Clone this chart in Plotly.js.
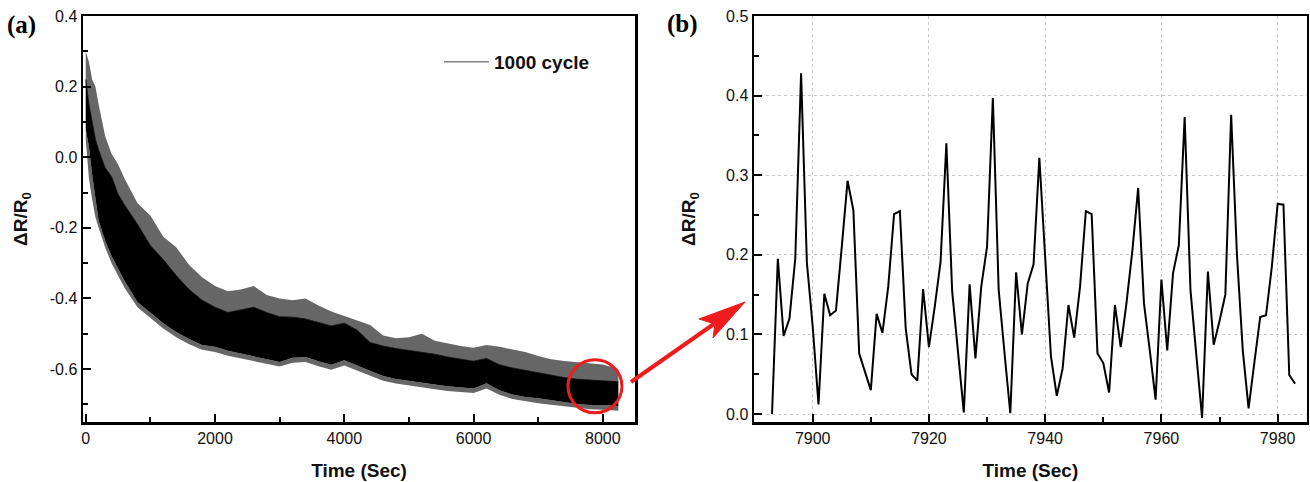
<!DOCTYPE html>
<html><head><meta charset="utf-8">
<script src="https://cdn.plot.ly/plotly-3.0.1.min.js"></script>
<style>html,body{margin:0;padding:0;background:#fff}#chart{width:1310px;height:482px}</style>
</head><body><div id="chart"></div>
<script>
// ---------- Panel (a): envelope readings of the 1000-cycle record ----------
const timeA     = [0, 50, 100, 150, 200, 300, 400, 500, 600, 800, 1000, 1200, 1400, 1600, 1800, 2000, 2200, 2400, 2600, 2800, 3000, 3200, 3400, 3600, 3800, 4000, 4200, 4400, 4600, 4800, 5000, 5200, 5400, 5600, 5800, 6000, 6200, 6400, 6600, 6800, 7000, 7200, 7400, 7600, 7800, 8000, 8240];
const spikeTopA = [0.30, 0.27, 0.22, 0.20, 0.15, 0.06, 0.01, -0.02, -0.06, -0.13, -0.165, -0.225, -0.255, -0.305, -0.34, -0.365, -0.38, -0.375, -0.365, -0.39, -0.40, -0.405, -0.40, -0.42, -0.437, -0.45, -0.462, -0.475, -0.505, -0.513, -0.51, -0.50, -0.52, -0.528, -0.535, -0.54, -0.532, -0.537, -0.545, -0.552, -0.563, -0.572, -0.577, -0.58, -0.584, -0.587, -0.60];
const coreTopA  = [0.22, 0.15, 0.10, 0.05, 0.02, -0.03, -0.055, -0.105, -0.135, -0.19, -0.25, -0.29, -0.335, -0.375, -0.405, -0.425, -0.44, -0.432, -0.425, -0.44, -0.452, -0.453, -0.458, -0.468, -0.478, -0.47, -0.49, -0.525, -0.535, -0.542, -0.547, -0.551, -0.558, -0.566, -0.573, -0.578, -0.57, -0.588, -0.597, -0.604, -0.611, -0.619, -0.624, -0.629, -0.631, -0.632, -0.636];
const coreBotA  = [0.08, 0.03, -0.05, -0.12, -0.18, -0.235, -0.28, -0.315, -0.35, -0.41, -0.44, -0.47, -0.495, -0.515, -0.532, -0.537, -0.548, -0.556, -0.562, -0.572, -0.58, -0.568, -0.566, -0.578, -0.588, -0.575, -0.59, -0.607, -0.62, -0.628, -0.634, -0.64, -0.644, -0.649, -0.653, -0.655, -0.64, -0.66, -0.672, -0.679, -0.683, -0.687, -0.693, -0.699, -0.702, -0.702, -0.705];
const spikeBotA = [0.05, -0.06, -0.12, -0.17, -0.20, -0.255, -0.30, -0.335, -0.37, -0.425, -0.455, -0.485, -0.51, -0.53, -0.545, -0.552, -0.562, -0.57, -0.576, -0.585, -0.593, -0.582, -0.58, -0.592, -0.602, -0.59, -0.604, -0.62, -0.633, -0.641, -0.647, -0.653, -0.657, -0.662, -0.666, -0.668, -0.655, -0.673, -0.685, -0.692, -0.697, -0.701, -0.706, -0.711, -0.714, -0.715, -0.718];
const seriesNameA = '1000 cycle';

// ---------- Panel (b): zoom of the last cycles ----------
const timeB  = [7893, 7894, 7895, 7896, 7897, 7898, 7899, 7900, 7901, 7902, 7903, 7904, 7905, 7906, 7907, 7908, 7909, 7910, 7911, 7912, 7913, 7914, 7915, 7916, 7917, 7918, 7919, 7920, 7921, 7922, 7923, 7924, 7925, 7926, 7927, 7928, 7929, 7930, 7931, 7932, 7933, 7934, 7935, 7936, 7937, 7938, 7939, 7940, 7941, 7942, 7943, 7944, 7945, 7946, 7947, 7948, 7949, 7950, 7951, 7952, 7953, 7954, 7955, 7956, 7957, 7958, 7959, 7960, 7961, 7962, 7963, 7964, 7965, 7966, 7967, 7968, 7969, 7970, 7971, 7972, 7973, 7974, 7975, 7976, 7977, 7978, 7979, 7980, 7981, 7982, 7983];
const ratioB = [0.0, 0.195, 0.098, 0.12, 0.195, 0.428, 0.19, 0.11, 0.012, 0.151, 0.124, 0.13, 0.21, 0.293, 0.256, 0.076, 0.053, 0.03, 0.126, 0.102, 0.16, 0.251, 0.255, 0.108, 0.05, 0.042, 0.157, 0.084, 0.135, 0.191, 0.34, 0.154, 0.078, 0.002, 0.163, 0.07, 0.16, 0.21, 0.397, 0.156, 0.077, 0.001, 0.178, 0.1, 0.164, 0.188, 0.322, 0.2, 0.072, 0.023, 0.057, 0.137, 0.096, 0.16, 0.255, 0.251, 0.076, 0.064, 0.027, 0.137, 0.084, 0.14, 0.205, 0.284, 0.139, 0.08, 0.018, 0.169, 0.08, 0.177, 0.212, 0.373, 0.156, 0.075, -0.005, 0.179, 0.087, 0.117, 0.15, 0.376, 0.2, 0.08, 0.007, 0.065, 0.122, 0.124, 0.185, 0.264, 0.263, 0.049, 0.038];

// ---------- tick labels ----------
const xTickValsA = [0, 2000, 4000, 6000, 8000];
const xTickTextA = ['0', '2000', '4000', '6000', '8000'];
const yTickValsA = [-0.6, -0.4, -0.2, 0, 0.2, 0.4];
const yTickTextA = ['-0.6', '-0.4', '-0.2', '0.0', '0.2', '0.4'];
const xTickValsB = [7900, 7920, 7940, 7960, 7980];
const xTickTextB = ['7900', '7920', '7940', '7960', '7980'];
const yTickValsB = [0, 0.1, 0.2, 0.3, 0.4, 0.5];
const yTickTextB = ['0.0', '0.1', '0.2', '0.3', '0.4', '0.5'];

const xTitle = 'Time (Sec)';
const yTitle = 'ΔR/R<sub>0</sub>';

// ---------- figure ----------
const W = 1310, H = 482;
const px = v => v / W, py = v => 1 - v / H;
const SANS = 'Liberation Sans, Arial, sans-serif';
const SERIF = 'Liberation Serif, Times New Roman, serif';
const RED = '#ee1c1c';

const hatch = {shape: '|', size: 2, solidity: 0.6, fgcolor: '#000', bgcolor: 'rgba(255,255,255,0)'};

const traces = [
  {x: timeA, y: spikeBotA, mode: 'lines', line: {width: 0, color: '#000'}, showlegend: false, hoverinfo: 'skip'},
  {x: timeA, y: coreBotA, mode: 'lines', line: {width: 0, color: '#000'}, fill: 'tonexty', fillpattern: hatch, fillcolor: 'rgba(0,0,0,0)', showlegend: false, hoverinfo: 'skip'},
  {x: timeA, y: coreTopA, mode: 'lines', line: {width: 0.8, color: '#000'}, fill: 'tonexty', fillcolor: '#000', showlegend: false, hoverinfo: 'skip'},
  {x: timeA, y: spikeTopA, mode: 'lines', line: {width: 0, color: '#000'}, fill: 'tonexty', fillpattern: hatch, fillcolor: 'rgba(0,0,0,0)', showlegend: false, hoverinfo: 'skip'},
  {x: timeB, y: ratioB, xaxis: 'x2', yaxis: 'y2', mode: 'lines', line: {width: 2, color: '#000'}, showlegend: false},
  {x: [null], y: [null], xaxis: 'x2', yaxis: 'y2', mode: 'lines', name: seriesNameA, fill: 'none', line: {width: 1, color: '#444'}, showlegend: true}
];

function axisBase(extra) {
  return Object.assign({
    showline: true, linecolor: '#000', linewidth: 2.5, mirror: true,
    ticks: 'inside', ticklen: 8, tickwidth: 2, tickcolor: '#000',
    zeroline: false, showgrid: false, tickmode: 'array',
    tickfont: {family: SANS, size: 16, color: '#111'}
  }, extra);
}
const titleFont = {family: SANS, size: 19, color: '#111'};

const layout = {
  width: W, height: H,
  margin: {l: 0, r: 0, t: 0, b: 0},
  paper_bgcolor: '#fff', plot_bgcolor: '#fff',
  showlegend: true,
  legend: {x: px(439), y: py(62), xanchor: 'left', yanchor: 'middle', bgcolor: 'rgba(0,0,0,0)',
           itemwidth: 45,
           font: {family: SANS, size: 19, color: '#111', weight: 'bold'}},
  xaxis: axisBase({domain: [px(83), px(635)], range: [-42, 8497], anchor: 'y',
    tickvals: xTickValsA, ticktext: xTickTextA,
    minor: {dtick: 1000, tick0: 0, ticks: 'inside', ticklen: 5, tickwidth: 2, tickcolor: '#000'},
    title: {text: '<b>' + xTitle + '</b>', font: titleFont, standoff: 18}}),
  yaxis: axisBase({domain: [py(422), py(16)], range: [-0.75, 0.4], anchor: 'x',
    tickvals: yTickValsA, ticktext: yTickTextA,
    minor: {dtick: 0.1, tick0: 0, ticks: 'inside', ticklen: 5, tickwidth: 2, tickcolor: '#000'},
    title: {text: '<b>' + yTitle + '</b>', font: titleFont, standoff: 17}}),
  xaxis2: axisBase({domain: [px(754), px(1306.7)], range: [7889.9, 7985], anchor: 'y2',
    tickvals: xTickValsB, ticktext: xTickTextB,
    showgrid: true, gridcolor: '#c8c8c8', griddash: 'dot', gridwidth: 1,
    minor: {dtick: 10, tick0: 7900, ticks: 'inside', ticklen: 5, tickwidth: 2, tickcolor: '#000'},
    title: {text: '<b>' + xTitle + '</b>', font: titleFont, standoff: 18}}),
  yaxis2: axisBase({domain: [py(422), py(16)], range: [-0.01, 0.5], anchor: 'x2',
    tickvals: yTickValsB, ticktext: yTickTextB,
    showgrid: true, gridcolor: '#c8c8c8', griddash: 'dot', gridwidth: 1,
    minor: {dtick: 0.05, tick0: 0, ticks: 'inside', ticklen: 5, tickwidth: 2, tickcolor: '#000'},
    title: {text: '<b>' + yTitle + '</b>', font: titleFont, standoff: 26}}),
  annotations: [
    {text: '<b>(a)</b>', xref: 'paper', yref: 'paper', x: px(5), y: py(25), xanchor: 'left', yanchor: 'middle',
     showarrow: false, font: {family: SERIF, size: 25, color: '#000'}},
    {text: '<b>(b)</b>', xref: 'paper', yref: 'paper', x: px(665), y: py(24), xanchor: 'left', yanchor: 'middle',
     showarrow: false, font: {family: SERIF, size: 25, color: '#000'}}
  ],
  shapes: [
    {type: 'circle', xref: 'x', yref: 'y', x0: 7460, x1: 8295, y0: -0.724, y1: -0.574,
     line: {color: RED, width: 3}},
    {type: 'line', xref: 'paper', yref: 'paper', x0: px(631), y0: py(382), x1: px(716), y1: py(322.5),
     line: {color: RED, width: 4}},
    {type: 'path', xref: 'paper', yref: 'paper',
     path: `M ${px(745)},${py(302)} L ${px(699)},${py(319)} L ${px(715)},${py(324)} L ${px(713)},${py(338)} Z`,
     fillcolor: RED, line: {color: RED, width: 1}}
  ]
};

Plotly.newPlot('chart', traces, layout, {displayModeBar: false, staticPlot: true});
</script>
</body></html>
